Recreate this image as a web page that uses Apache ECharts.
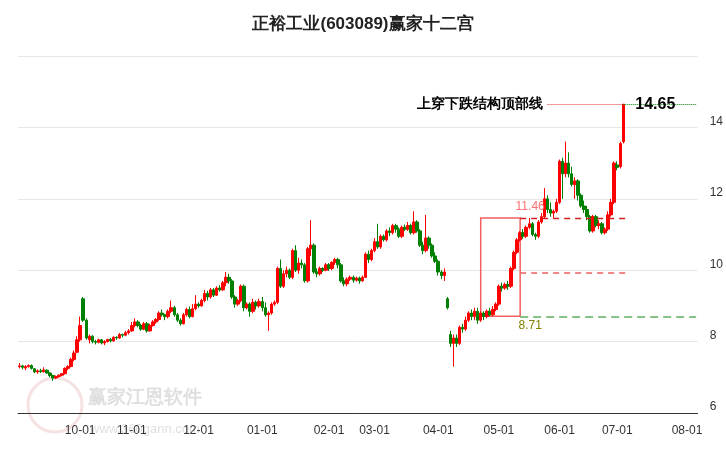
<!DOCTYPE html>
<html><head><meta charset="utf-8">
<script src="https://cdn.jsdelivr.net/npm/echarts@6/dist/echarts.min.js"></script>
<style>html,body{margin:0;padding:0;background:#fff}#c{width:726px;height:450px}</style>
</head><body><div id="c"></div>
<script>
// trading-day calendar (categories)
const startDate = '2023-09-01', endDate = '2024-08-06';
const holidays = ['2023-09-29','2023-10-02','2023-10-03','2023-10-04','2023-10-05','2023-10-06','2024-01-01','2024-02-09','2024-02-12','2024-02-13','2024-02-14','2024-02-15','2024-02-16','2024-04-04','2024-04-05','2024-05-01','2024-05-02','2024-05-03','2024-06-10'];
// [open, close, low, high]
const ohlc = [
[7.30,7.32,7.25,7.40],[7.32,7.28,7.22,7.35],[7.26,7.30,7.20,7.34],[7.30,7.33,7.27,7.36],[7.33,7.25,7.22,7.36],
[7.24,7.15,7.12,7.26],[7.15,7.18,7.10,7.22],[7.18,7.16,7.12,7.24],[7.16,7.20,7.13,7.28],[7.20,7.12,7.10,7.22],
[7.12,7.05,7.00,7.14],[7.05,6.98,6.90,7.07],[6.98,7.02,6.95,7.05],[7.02,7.06,6.99,7.08],[7.06,7.10,7.03,7.12],
[7.10,7.25,7.08,7.28],[7.25,7.30,7.20,7.34],[7.30,7.50,7.28,7.55],[7.50,7.68,7.45,7.75],[7.70,8.05,7.68,8.15],
[8.05,8.45,8.00,8.70],[9.20,8.60,8.55,9.25],[8.60,8.10,8.05,8.65],[8.05,8.15,7.95,8.20],[8.15,8.00,7.95,8.18],
[8.00,7.98,7.92,8.05],[7.98,8.05,7.95,8.08],[8.05,7.96,7.92,8.07],[7.96,8.00,7.90,8.04],[8.00,8.06,7.97,8.08],
[8.06,8.02,7.98,8.10],[8.02,8.12,8.00,8.15],[8.12,8.10,8.05,8.15],[8.10,8.20,8.08,8.24],[8.20,8.18,8.12,8.22],
[8.18,8.25,8.15,8.30],[8.25,8.30,8.20,8.35],
[8.30,8.45,8.27,8.55],[8.45,8.55,8.40,8.65],[8.55,8.45,8.40,8.60],[8.45,8.35,8.30,8.50],[8.35,8.50,8.32,8.55],
[8.50,8.30,8.25,8.55],[8.30,8.45,8.28,8.50],[8.45,8.55,8.42,8.60],[8.55,8.62,8.50,8.66],[8.62,8.80,8.58,8.85],
[8.80,8.75,8.70,8.90],[8.75,8.70,8.60,8.78],[8.70,8.85,8.65,8.90],[8.85,8.95,8.80,9.15],[8.95,8.75,8.70,9.00],
[8.75,8.60,8.55,8.80],[8.60,8.50,8.45,8.65],[8.50,8.75,8.48,8.80],[8.75,8.90,8.70,8.95],[8.90,8.70,8.65,8.98],
[8.70,8.92,8.68,9.05],[8.92,9.05,8.88,9.30],
[9.05,9.00,8.95,9.10],[9.00,9.15,8.98,9.20],[9.15,9.35,9.10,9.45],[9.35,9.25,9.15,9.42],[9.25,9.45,9.20,9.50],
[9.45,9.30,9.25,9.50],[9.30,9.50,9.28,9.55],[9.50,9.45,9.40,9.58],[9.45,9.65,9.42,9.70],[9.65,9.80,9.55,9.95],
[9.80,9.70,9.62,9.90],[9.70,9.25,9.20,9.75],[9.25,9.05,8.95,9.30],[9.05,9.15,9.00,9.20],[9.15,9.55,9.10,9.60],
[9.55,8.95,8.85,9.60],[8.95,9.05,8.90,9.10],[9.05,8.85,8.70,9.10],[8.85,9.10,8.80,9.20],[9.10,9.00,8.90,9.15],
[9.00,9.12,8.95,9.20],
[9.12,8.95,8.85,9.25],[8.95,8.75,8.70,9.10],[8.75,8.80,8.30,8.85],[8.80,9.05,8.75,9.10],[9.05,9.10,9.00,9.15],
[9.10,10.05,9.05,10.10],[10.05,9.55,9.50,10.30],[9.55,9.90,9.50,10.00],[9.90,10.00,9.80,10.10],[10.00,9.80,9.75,10.05],
[9.80,10.55,9.75,10.60],[10.55,10.00,9.95,10.70],[10.00,10.20,9.90,10.35],[10.20,10.15,10.05,10.30],[10.15,9.70,9.65,10.20],
[9.70,10.60,9.65,10.65],[10.60,10.70,10.40,11.40],[10.70,9.95,9.90,10.75],[9.95,9.90,9.80,10.05],[9.90,10.05,9.85,10.10],
[10.05,10.00,9.95,10.08],[10.00,10.15,9.97,10.20],
[10.15,10.05,9.98,10.20],[10.05,10.22,10.00,10.25],[10.22,10.30,10.15,10.35],[10.30,10.15,10.05,10.35],[10.15,9.70,9.65,10.20],
[9.70,9.62,9.55,9.80],[9.62,9.75,9.55,9.80],[9.75,9.80,9.70,9.85],[9.80,9.72,9.65,9.85],[9.72,9.78,9.68,9.82],
[9.78,9.70,9.62,9.82],[9.70,9.80,9.68,9.85],[9.80,10.45,9.78,10.50],[10.45,10.30,10.20,10.55],[10.30,10.55,10.25,10.60],
[10.55,10.80,10.50,10.90],[10.80,10.65,10.60,11.30],[10.65,10.95,10.60,11.00],[10.95,10.85,10.80,11.00],[10.85,11.10,10.80,11.15],
[11.10,11.05,10.95,11.20],[11.05,11.25,11.00,11.30],[11.25,11.15,11.05,11.30],[11.15,10.95,10.90,11.20],[10.95,11.20,10.90,11.25],
[11.20,11.15,11.10,11.28],[11.15,11.25,11.10,11.35],[11.25,11.05,11.00,11.30],[11.05,11.35,11.00,11.65],[11.35,11.10,11.05,11.40],
[11.10,10.70,10.65,11.15],[10.70,10.55,10.45,10.80],[10.55,10.90,10.50,11.55],[10.90,10.70,10.60,10.95],[10.70,10.40,10.35,10.75],
[10.40,10.25,10.20,10.50],
[10.25,9.95,9.85,10.30],[9.95,9.85,9.75,10.00],[9.85,9.95,9.70,10.05],[9.20,8.95,8.90,9.25],[8.20,7.95,7.85,8.30],
[7.95,8.10,7.30,8.20],[8.10,7.95,7.85,8.20],[7.95,8.40,7.90,8.45],[8.40,8.35,8.25,8.50],[8.35,8.60,8.30,8.70],
[8.60,8.80,8.55,8.85],[8.80,8.70,8.60,8.90],[8.70,8.85,8.60,8.95],[8.85,8.60,8.50,8.95],[8.60,8.80,8.55,8.85],
[8.80,8.70,8.60,8.85],[8.70,8.85,8.65,8.90],[8.85,8.75,8.71,8.95],[8.75,8.90,8.71,9.00],[8.90,9.05,8.85,9.10],
[9.05,9.55,9.00,9.60],[9.55,9.50,9.40,9.65],[9.50,9.60,9.45,9.65],[9.60,9.55,9.45,9.70],[9.55,10.05,9.50,10.10],
[10.05,10.50,10.00,10.55],[10.50,10.85,10.45,10.90],[10.85,11.05,10.80,11.10],[11.05,10.95,10.88,11.15],[10.95,11.20,10.90,11.25],
[11.20,11.30,11.15,11.46],[11.30,11.00,10.95,11.35],[11.00,10.95,10.85,11.05],[10.95,11.35,10.90,11.40],[11.35,11.50,11.30,11.60],
[11.50,12.00,11.45,12.30],[12.00,11.70,11.60,12.10],[11.70,11.60,11.50,11.90],[11.60,11.65,11.45,11.70],[11.65,11.90,11.60,12.00],
[11.90,13.05,11.85,13.10],[13.05,12.70,12.00,13.15],[12.70,13.00,12.60,13.60],[13.00,12.70,12.60,13.30],[12.70,12.40,12.35,12.90],
[12.40,12.50,12.00,12.60],[12.50,12.10,11.95,12.55],[12.10,11.80,11.75,12.15],[11.80,11.70,11.60,11.95],[11.70,11.50,11.40,11.80],
[11.50,11.10,11.05,11.55],[11.10,11.50,11.05,11.55],[11.50,11.25,11.20,11.55],[11.25,11.30,11.15,11.40],[11.30,11.05,11.00,11.35],
[11.05,11.15,11.00,11.20],[11.15,11.55,11.10,11.65],[11.55,11.90,11.50,12.00],[11.90,13.00,11.85,13.05],
[12.95,12.88,12.80,13.05],[12.90,13.55,12.85,13.60],[13.60,14.65,13.55,14.65]
];
const yTicks = [6,8,10,12,14,16];
const topLine = 14.65, boxHigh = 11.46, boxLow = 8.71, boxMid = 9.92;

const dates = [];
for (let d = new Date(startDate+'T00:00:00Z'); d <= new Date(endDate+'T00:00:00Z'); d.setUTCDate(d.getUTCDate()+1)) {
  const wd = d.getUTCDay(); const s = d.toISOString().slice(0,10);
  if (wd===0||wd===6||holidays.includes(s)) continue;
  dates.push(s);
}
const firstOfMonth = new Set();
dates.forEach((s,i)=>{ if(i>0 && s.slice(5,7)!==dates[i-1].slice(5,7)) firstOfMonth.add(i); });
const data = ohlc.map(r=>[r[0],r[1],r[2],r[3]]);
const n = ohlc.length, last = dates.length-1;
const iBoxL = n-48, iBoxR = n-35, iLineEnd = n+1, iTextAt = n-26;

const chart = echarts.init(document.getElementById('c'));
chart.setOption({
  animation:false,
  title:{text:'正裕工业(603089)赢家十二宫',left:'center',top:11,textStyle:{fontSize:17,fontWeight:'bold',color:'#222'}},
  graphic:[
    {type:'circle',shape:{cx:55,cy:405,r:27},style:{fill:'none',stroke:'rgba(220,140,140,0.25)',lineWidth:3},z:0},
    {type:'text',style:{x:88,y:388,text:'赢家江恩软件',fontSize:19,fill:'rgba(150,150,150,0.3)',fontWeight:'bold'},z:0},
    {type:'text',style:{x:90,y:423,text:'www.360gann.com',fontSize:13,fill:'rgba(150,150,150,0.3)'},z:0}
  ],
  grid:{left:18,right:26,top:56,bottom:37},
  xAxis:{type:'category',data:dates,boundaryGap:true,
    axisLine:{lineStyle:{color:'#333'}},
    axisTick:{interval:(i)=>firstOfMonth.has(i),length:6,lineStyle:{color:'#333'},alignWithLabel:true},
    axisLabel:{interval:(i)=>firstOfMonth.has(i),formatter:(v)=>v.slice(5,7)+'-01',color:'#333',fontSize:12,margin:12},
    splitLine:{show:false}},
  yAxis:{type:'value',position:'right',min:6,max:16,interval:2,
    axisLine:{show:false},axisTick:{show:false},
    axisLabel:{color:'#333',fontSize:12,verticalAlign:'bottom',margin:12,showMaxLabel:false},
    splitLine:{lineStyle:{color:'#e6e6e6'}}},
  series:[{
    type:'candlestick',data:data,barWidth:3,
    itemStyle:{color:'#ff0000',color0:'#008000',borderColor:'#ff0000',borderColor0:'#008000',borderWidth:1},
    markArea:{silent:true,itemStyle:{color:'rgba(0,0,0,0)',borderColor:'#f06060',borderWidth:1.5},
      data:[[{coord:[iBoxL,boxLow]},{coord:[iBoxR,boxHigh]}]]},
    markLine:{silent:true,symbol:'none',label:{show:false},
      data:[
        [{coord:[iTextAt,topLine],lineStyle:{color:'#e03030',type:'dotted',width:1}},{coord:[n-1,topLine]}],
        [{coord:[n-1,topLine],lineStyle:{color:'#008000',type:'dotted',width:1}},{coord:[last,topLine]}],
        [{coord:[iBoxR,boxHigh],lineStyle:{color:'#d02020',type:[6,5],width:1.3}},{coord:[iLineEnd,boxHigh]}],
        [{coord:[iBoxR,boxMid],lineStyle:{color:'#f06060',type:[6,5],width:1.5}},{coord:[iLineEnd,boxMid]}],
        [{coord:[iBoxR,boxLow],lineStyle:{color:'#60b060',type:[8,5],width:1.5}},{coord:[last,boxLow]}]
      ]},
    markPoint:{silent:true,symbol:'circle',symbolSize:0,
      data:[
        {coord:[iTextAt,topLine],label:{show:true,position:'left',distance:4,formatter:'上穿下跌结构顶部线',fontSize:14,fontWeight:'bold',color:'#000'}},
        {coord:[n-1,topLine],label:{show:true,position:'right',distance:12,formatter:String(topLine),fontSize:16,fontWeight:'bold',color:'#000'}},
        {coord:[iBoxR,boxHigh],label:{show:true,position:'top',distance:5,offset:[10,0],formatter:String(boxHigh),fontSize:12,color:'#ff7070'}},
        {coord:[iBoxR,boxLow],label:{show:true,position:'bottom',distance:3,offset:[10,0],formatter:String(boxLow),fontSize:12,color:'#808000'}}
      ]}
  }]
});
</script></body></html>
